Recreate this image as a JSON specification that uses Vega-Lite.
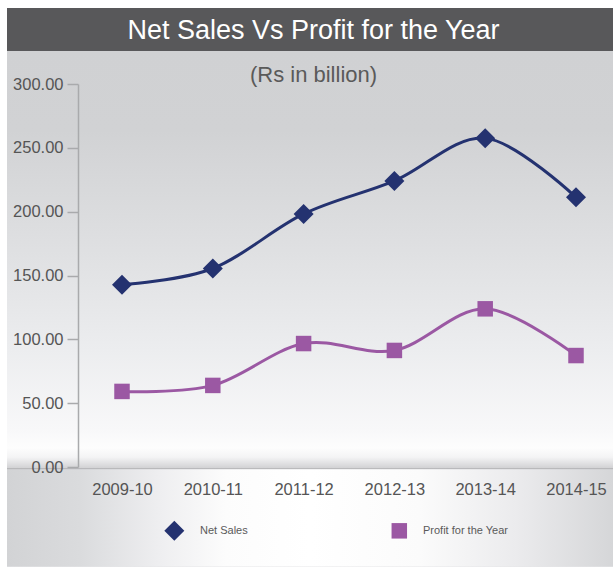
{
  "$schema": "https://vega.github.io/schema/vega-lite/v6.json",
  "background": "white",
  "padding": {"left": 6, "top": 8, "right": 0, "bottom": 0},
  "spacing": 0,
  "config": {"view": {"stroke": null}, "font": "Liberation Sans", "concat": {"spacing": 0}},
  "vconcat": [
    {
      "width": 607,
      "height": 43,
      "data": {"values": [{"title": "Net Sales Vs Profit for the Year"}]},
      "layer": [
        {"mark": {"type": "rect", "color": "#58585a"}, "encoding": {}},
        {
          "mark": {"type": "text", "color": "#ffffff", "fontSize": 27, "font": "Liberation Sans", "baseline": "middle", "dx": 3, "dy": 1},
          "encoding": {"text": {"field": "title"}}
        }
      ]
    },
    {
      "width": 607,
      "height": 516,
      "data": {
        "values": [
          {"year": "2009-10", "series": "Net Sales", "value": 142.7},
          {"year": "2010-11", "series": "Net Sales", "value": 155.5},
          {"year": "2011-12", "series": "Net Sales", "value": 198.2},
          {"year": "2012-13", "series": "Net Sales", "value": 224.1},
          {"year": "2013-14", "series": "Net Sales", "value": 257.6},
          {"year": "2014-15", "series": "Net Sales", "value": 211.2},
          {"year": "2009-10", "series": "Profit for the Year", "value": 59.2},
          {"year": "2010-11", "series": "Profit for the Year", "value": 63.9},
          {"year": "2011-12", "series": "Profit for the Year", "value": 96.7},
          {"year": "2012-13", "series": "Profit for the Year", "value": 91.3},
          {"year": "2013-14", "series": "Profit for the Year", "value": 123.9},
          {"year": "2014-15", "series": "Profit for the Year", "value": 87.3}
        ]
      },
      "layer": [
        {
          "data": {"values": [{"k": 1}]},
          "mark": {
            "type": "rect",
            "color": {
              "gradient": "linear", "x1": 0, "y1": 0, "x2": 0, "y2": 1,
              "stops": [
                {"offset": 0, "color": "#d0d1d3"},
                {"offset": 0.153, "color": "#d1d2d4"},
                {"offset": 0.386, "color": "#dfe0e2"},
                {"offset": 0.579, "color": "#ecedef"},
                {"offset": 0.734, "color": "#f8f8f9"},
                {"offset": 0.769, "color": "#fdfdfd"},
                {"offset": 0.787, "color": "#f4f4f5"},
                {"offset": 0.802, "color": "#dcdcde"},
                {"offset": 0.81, "color": "#cfcfd1"},
                {"offset": 1, "color": "#e6e6e8"}
              ]
            }
          },
          "encoding": {}
        },
        {
          "data": {"values": [{"k": 1}]},
          "mark": {
            "type": "rect",
            "color": {
              "gradient": "linear", "x1": 0, "y1": 0, "x2": 1, "y2": 0,
              "stops": [
                {"offset": 0, "color": "#d2d3d5"},
                {"offset": 0.12, "color": "#dadbdd"},
                {"offset": 0.25, "color": "#eeeef0"},
                {"offset": 0.36, "color": "#fcfcfc"},
                {"offset": 0.5, "color": "#ffffff"},
                {"offset": 0.68, "color": "#fbfbfb"},
                {"offset": 0.84, "color": "#ebebed"},
                {"offset": 1, "color": "#d5d6d8"}
              ]
            }
          },
          "encoding": {
            "y": {"datum": -1.3, "type": "quantitative", "scale": {"domain": [0, 300], "range": [416, 33], "nice": false}},
            "y2": {"datum": -78}
          }
        },
        {
          "data": {"values": [{"k": 1}]},
          "mark": {"type": "rule", "color": "#b4b4b6", "strokeWidth": 1},
          "encoding": {"y": {"datum": -1.3, "type": "quantitative"}}
        },
        {
          "data": {"values": [{"t": "(Rs in billion)"}]},
          "mark": {"type": "text", "fontSize": 22, "font": "Liberation Sans", "color": "#5a5a5a", "baseline": "middle", "dx": 3},
          "encoding": {"text": {"field": "t"}, "y": {"datum": 307, "type": "quantitative"}}
        },
        {
          "mark": {"type": "line", "interpolate": "cardinal", "strokeWidth": 3},
          "encoding": {
            "x": {
              "field": "year", "type": "ordinal", "sort": null,
              "scale": {"type": "point", "range": [115, 569], "padding": 0},
              "axis": {
                "orient": "bottom", "offset": -100, "title": null, "domain": false, "ticks": false, "zindex": 2,
                "labelAngle": 0, "labelFont": "Liberation Sans", "labelFontSize": 16.5, "labelColor": "#555555",
                "labelPadding": 14, "grid": false
              }
            },
            "y": {
              "field": "value", "type": "quantitative",
              "scale": {"domain": [0, 300], "range": [416, 33], "nice": false},
              "axis": {
                "orient": "left", "offset": -71, "title": null, "grid": false, "zindex": 2,
                "values": [0, 50, 100, 150, 200, 250, 300], "format": ".2f",
                "domainColor": "#a9aaac", "domainWidth": 1.5, "tickColor": "#a9aaac", "tickWidth": 1.5, "tickSize": 11,
                "labelFont": "Liberation Sans", "labelFontSize": 16.5, "labelColor": "#555555", "labelPadding": 4
              }
            },
            "color": {
              "field": "series", "type": "nominal",
              "scale": {"domain": ["Net Sales", "Profit for the Year"], "range": ["#243270", "#9b58a3"]},
              "legend": {
                "title": null, "orient": "none", "legendX": 157.3, "legendY": 512.7, "direction": "horizontal", "zindex": 2,
                "symbolStrokeWidth": 0, "symbolOpacity": 1,
                "labelFont": "Liberation Sans", "labelFontSize": 11, "labelColor": "#5a5a5a",
                "labelOffset": 15.7, "columnPadding": 143, "padding": 0
              }
            }
          }
        },
        {
          "mark": {"type": "point", "filled": true, "opacity": 1},
          "encoding": {
            "x": {"field": "year", "type": "ordinal", "sort": null},
            "y": {"field": "value", "type": "quantitative"},
            "color": {"field": "series", "type": "nominal"},
            "shape": {
              "field": "series", "type": "nominal",
              "scale": {"domain": ["Net Sales", "Profit for the Year"], "range": ["diamond", "square"]},
              "legend": null
            },
            "size": {
              "field": "series", "type": "nominal",
              "scale": {"domain": ["Net Sales", "Profit for the Year"], "range": [400, 240]},
              "legend": null
            }
          }
        }
      ]
    }
  ]
}
